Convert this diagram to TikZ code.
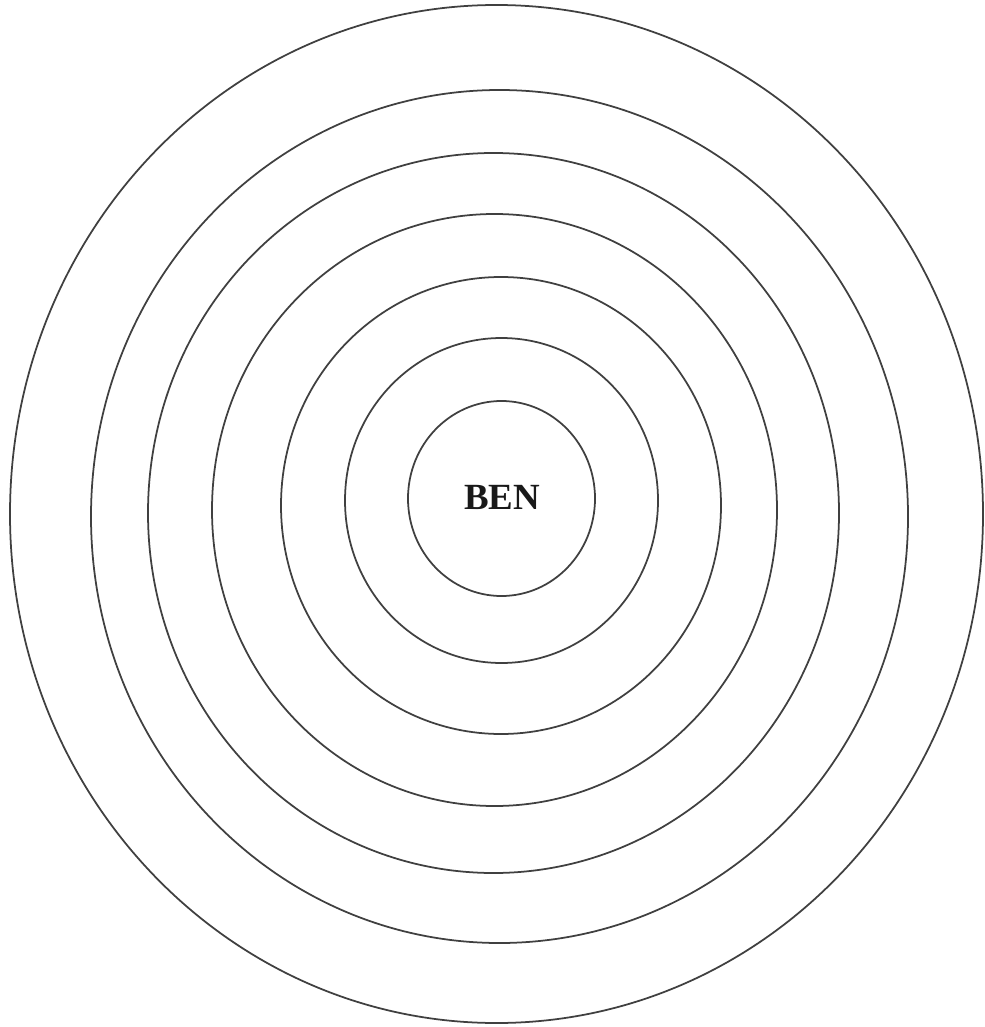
\documentclass[tikz,border=0pt]{standalone}
\usepackage{fontspec}
\setmainfont{Liberation Serif}
\usepackage{tikz}
\usetikzlibrary{positioning, calc}
\definecolor{ringgray}{HTML}{404040}
\tikzset{
  % Concentric rings
  ring/.style={draw=ringgray, line width=1pt},
  % Centre label
  centrelabel/.style={font=\fontsize{21}{25}\selectfont\bfseries, text=black!90, inner sep=0pt},
}

\begin{document}
\begin{tikzpicture}[x=0.02cm, y=-0.02cm]
  % Page frame
  \useasboundingbox (0,0) rectangle (984,1027);

  % Rings, inside out: centre x / centre y / x radius / y radius
  \foreach \cx/\cy/\rx/\ry in {
      501.5/498.5/93.5/97.5,
      501.5/500.5/156.5/162.5,
      501/505.5/220/228.5,
      494.5/510/282.5/296,
      493.5/513/345.5/360,
      499.5/516.5/408.5/426.5,
      496.5/514/486.5/509}
    \draw[ring] (\cx,\cy) ellipse [x radius=\rx, y radius=\ry];

  % Centre label
  \node[centrelabel] (ben) at (502,497) {BEN};
\end{tikzpicture}
\end{document}
